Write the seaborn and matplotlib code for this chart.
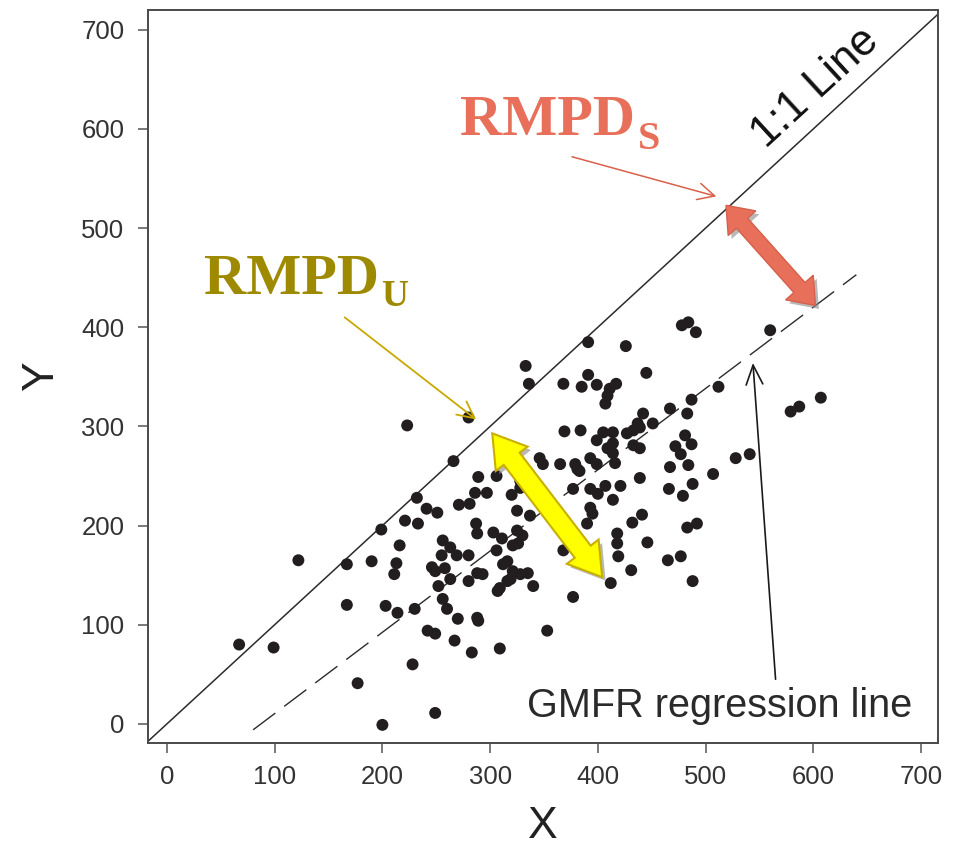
import numpy as np
import pandas as pd
import seaborn as sns
import matplotlib
matplotlib.use("Agg")
import matplotlib.pyplot as plt
from matplotlib.patches import Polygon
from matplotlib.transforms import IdentityTransform
import matplotlib.patheffects as pe

# ---------------- data ----------------
x_vals = [67, 99, 122, 167, 167, 177, 200, 190, 199, 203, 214, 211, 213, 216, 221, 233, 232, 241, 251, 223,
          228, 249, 230, 266, 280, 271, 281, 289, 306, 286, 297, 320, 287, 288, 303, 311, 325, 321, 326, 256,
          263, 255, 269, 280, 306, 246, 249, 258, 263, 252, 280, 288, 293, 312, 316, 309, 321, 256, 260, 270,
          288, 289, 242, 249, 267, 283, 309, 353, 377, 412, 431, 330, 316, 319, 307, 328, 335, 340, 368, 390,
          418, 418, 419, 446, 432, 467, 484, 507, 466, 479, 488, 439, 421, 414, 400, 407, 393, 377, 381, 365,
          393, 395, 441, 483, 492, 465, 477, 488, 325, 337, 328, 391, 426, 333, 336, 368, 385, 391, 399, 411,
          417, 409, 407, 445, 442, 451, 437, 369, 384, 399, 405, 414, 427, 433, 439, 414, 409, 414, 433, 439,
          393, 399, 416, 346, 349, 379, 383, 328, 478, 484, 491, 560, 512, 487, 467, 483, 481, 472, 487, 477,
          528, 541, 579, 587, 607]
y_vals = [80, 77, 165, 161, 120, 41, -1, 164, 196, 119, 112, 151, 162, 180, 205, 202, 228, 217, 213, 301,
          60, 11, 116, 265, 309, 221, 222, 249, 250, 233, 233, 231, 202, 192, 193, 187, 195, 180, 182, 185,
          178, 170, 170, 170, 175, 158, 154, 157, 146, 139, 144, 152, 151, 161, 144, 137, 154, 126, 116, 106,
          107, 104, 94, 91, 84, 72, 76, 94, 128, 142, 155, 190, 164, 146, 134, 151, 152, 139, 175, 202,
          192, 182, 169, 183, 203, 259, 261, 252, 237, 230, 242, 248, 240, 226, 232, 240, 237, 237, 257, 262,
          218, 212, 211, 198, 202, 165, 169, 144, 215, 210, 245, 385, 381, 361, 343, 343, 340, 352, 342, 338,
          343, 331, 323, 354, 313, 303, 303, 295, 296, 286, 294, 294, 293, 296, 299, 283, 278, 273, 281, 278,
          268, 262, 263, 268, 262, 262, 255, 238, 402, 405, 395, 397, 340, 327, 318, 313, 291, 280, 282, 272,
          268, 272, 315, 320, 329]

one_to_one_x = [-50, 800]
one_to_one_y = [-50, 800]
gmfr_x = [80, 640]
gmfr_y = [-6, 453]
tick_values = [0, 100, 200, 300, 400, 500, 600, 700]

points = pd.DataFrame({"X": x_vals, "Y": y_vals})

# ---------------- style ----------------
sns.set_theme(style="white")
plt.rcParams["font.family"] = ["Liberation Sans", "DejaVu Sans"]

W, H = 955, 848
fig = plt.figure(figsize=(W / 100, H / 100), dpi=100)
ax = fig.add_axes([148 / W, 1 - 743 / H, 790 / W, 733 / H])

ax.set_xlim(-17.6, 715.8)
ax.set_ylim(-19.3, 720.0)

# 1:1 line
sns.lineplot(x=one_to_one_x, y=one_to_one_y, ax=ax, color="#2b2b2b", linewidth=1.1,
             sort=False, estimator=None)
# GMFR regression line (dashed)
ax.plot(gmfr_x, gmfr_y, color="#2b2b2b", linewidth=1.0, linestyle=(0, (20, 8)))

# points
sns.scatterplot(data=points, x="X", y="Y", ax=ax, color="#221e1f", s=74,
                edgecolor="none", linewidth=0, zorder=3)

ax.set_xticks(tick_values)
ax.set_yticks(tick_values)
ax.tick_params(axis="both", which="major", direction="out", length=7, width=1.1,
               color="#555555", labelsize=18.5, labelcolor="#333333",
               bottom=True, left=True)
ax.tick_params(axis="x", pad=9)
ax.tick_params(axis="y", pad=10)
for sp in ax.spines.values():
    sp.set_color("#4a4a4a")
    sp.set_linewidth(1.4)

ax.set_xlabel("X", fontsize=32, color="#222222", labelpad=12)
ax.set_ylabel("Y", fontsize=32, color="#222222", labelpad=14)

# ---------------- annotations ----------------
ax.text(602, 642, "1:1 Line", fontsize=31.5, color="#111111", rotation=42.6,
        rotation_mode="anchor", ha="center", va="center")
ax.text(334, 7, "GMFR regression line", fontsize=28.5, color="#2a2a2a",
        ha="left", va="baseline")

serif_bold = dict(family=["Liberation Serif", "DejaVu Serif"], fontweight="bold")
ax.text(272, 594, "RMPD", fontsize=42, color="#E8705A", ha="left", va="baseline", **serif_bold)
ax.text(437, 580, "S", fontsize=29, color="#E8705A", ha="left", va="baseline", **serif_bold)
ax.text(34, 434, "RMPD", fontsize=42, color="#9E8A00", ha="left", va="baseline", **serif_bold)
ax.text(199, 421, "U", fontsize=27, color="#9E8A00", ha="left", va="baseline", **serif_bold)

ax.annotate("", xy=(510, 532), xytext=(376, 572),
            arrowprops=dict(arrowstyle="->,head_length=0.6,head_width=0.3",
                            color="#D9604A", lw=1.1, mutation_scale=20,
                            shrinkA=0, shrinkB=0))
ax.annotate("", xy=(287, 307), xytext=(165, 410),
            arrowprops=dict(arrowstyle="->,head_length=0.6,head_width=0.3",
                            color="#C9A800", lw=1.3, mutation_scale=20,
                            shrinkA=0, shrinkB=0))
ax.annotate("", xy=(544, 364), xytext=(565, 45),
            arrowprops=dict(arrowstyle="->,head_length=0.7,head_width=0.3",
                            color="#1a1a1a", lw=1.2, mutation_scale=20,
                            shrinkA=0, shrinkB=0))


def double_arrow(p0, p1, shaft_w, head_w, head_len, fc, ec, lw):
    a = np.array(ax.transData.transform(p0), dtype=float)
    b = np.array(ax.transData.transform(p1), dtype=float)
    d = b - a
    u = d / np.hypot(*d)
    n = np.array([-u[1], u[0]])
    hs, hh = shaft_w / 2, head_w / 2
    pts = [a,
           a + u * head_len + n * hh,
           a + u * head_len + n * hs,
           b - u * head_len + n * hs,
           b - u * head_len + n * hh,
           b,
           b - u * head_len - n * hh,
           b - u * head_len - n * hs,
           a + u * head_len - n * hs,
           a + u * head_len - n * hh]
    poly = Polygon(pts, closed=True, transform=IdentityTransform(), facecolor=fc,
                   edgecolor=ec, linewidth=lw, joinstyle="miter", clip_on=False, zorder=5,
                   path_effects=[pe.SimplePatchShadow(offset=(2.5, -2.5), shadow_rgbFace="#8a8a8a",
                                                      alpha=0.6),
                                 pe.Normal()])
    fig.add_artist(poly)


double_arrow((519, 523), (602, 422), 15, 37, 24, "#E8705A", "#D5604C", 1.0)
double_arrow((302, 293), (404, 148), 20, 40, 32, "#FFFF00", "#C9B000", 1.5)

fig.savefig("out.png", dpi=100)
